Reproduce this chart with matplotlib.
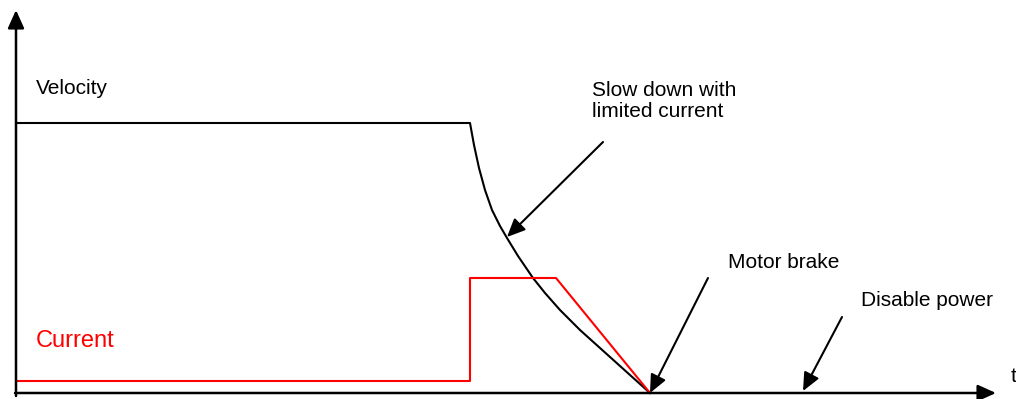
import matplotlib
matplotlib.use("Agg")
import matplotlib.pyplot as plt

# everything is in pixel units of the 1016x399 canvas (y grows downward)
W, H = 1016, 399

# velocity: flat, then slowing down with limited current
vel_x = [16, 470, 474, 479, 485, 492, 500, 507, 518, 533, 545, 560, 580, 600, 620, 640, 650]
vel_y = [123, 123, 145, 168, 190, 210, 226, 238, 256, 278, 293, 310, 330, 348, 366, 384, 393]

# current: low, step up, hold, ramp to zero
cur_x = [16, 470, 470, 556, 650]
cur_y = [381, 381, 278, 278, 393]

# annotations: (text, text position, arrow start, arrow tip)
notes = [
    ("Slow down with\nlimited current", (592, 101), (603, 142), (507, 237)),
    ("Motor brake", (728, 262), (708, 278), (650, 393)),
    ("Disable power", (861, 300), (842, 317), (803, 391)),
]

plt.rcParams['font.family'] = ['Liberation Sans', 'DejaVu Sans']

fig = plt.figure(figsize=(W / 100, H / 100), dpi=100)
ax = fig.add_axes([0, 0, 1, 1])
ax.set_xlim(0, W)
ax.set_ylim(H, 0)
ax.axis('off')

arrow = dict(arrowstyle='-|>,head_length=1.0,head_width=0.45', color='black',
             lw=1.5, shrinkA=0, shrinkB=0, mutation_scale=11)

# axes with arrow heads
ax.annotate('', xy=(16, 10), xytext=(16, 396), arrowprops=dict(arrow, lw=1.8))
ax.annotate('', xy=(996, 393), xytext=(15, 393), arrowprops=dict(arrow, lw=1.8))

ax.plot(vel_x, vel_y, color='black', lw=1.5, solid_joinstyle='round')
ax.plot(cur_x, cur_y, color='red', lw=1.5)

ax.text(36, 88, "Velocity", fontsize=15, va='center', ha='left')
ax.text(36, 341, "Current", fontsize=17, va='center', ha='left', color='red')
ax.text(1011, 377, "t", fontsize=15, va='center', ha='left')

for label, pos, start, tip in notes:
    ax.text(pos[0], pos[1], label, fontsize=15, va='center', ha='left',
            linespacing=1.1)
    ax.annotate('', xy=tip, xytext=start, arrowprops=arrow)

fig.savefig('out.png', dpi=100)
